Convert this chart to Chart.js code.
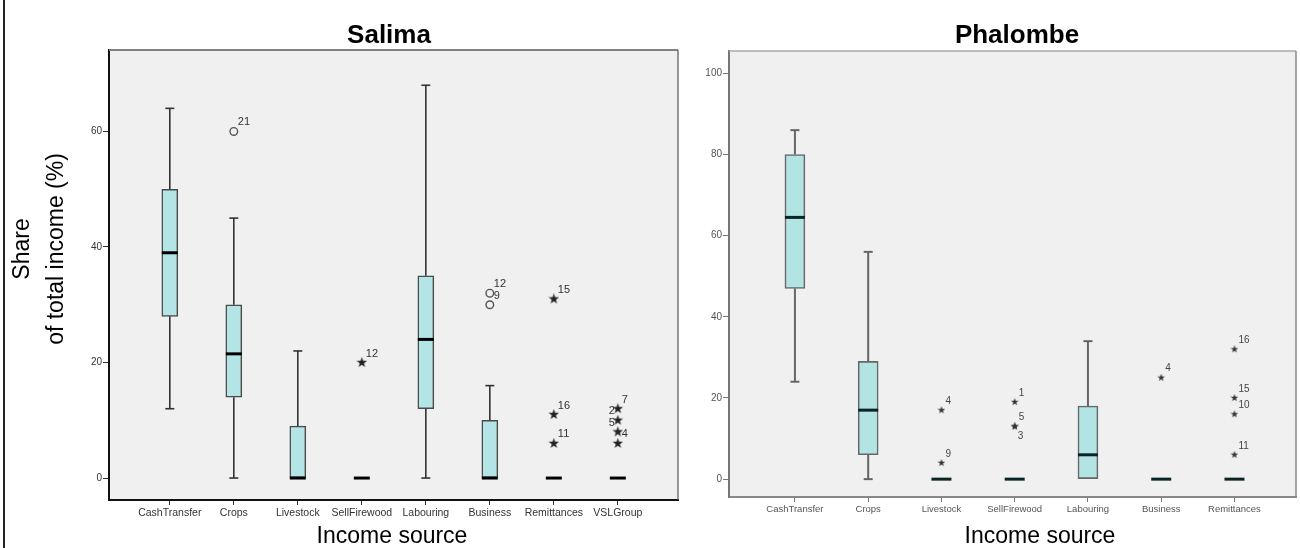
<!DOCTYPE html>
<html><head><meta charset="utf-8">
<script src="https://cdn.jsdelivr.net/npm/chart.js@4.4.1/dist/chart.umd.min.js"></script>
<style>
html,body{margin:0;padding:0;background:#fff;}
body{width:1300px;height:548px;overflow:hidden;position:relative;font-family:"Liberation Sans",Arial,sans-serif;}
canvas{position:absolute;top:0;}
#c1{left:0;}
#c2{left:690px;}
.t{position:absolute;white-space:nowrap;color:#000;text-align:center;}
</style></head><body>
<div style="position:absolute;left:3px;top:0;width:2px;height:548px;background:#222"></div>
<canvas id="c1" width="700" height="548" style="width:700px;height:548px"></canvas>
<canvas id="c2" width="610" height="548" style="width:610px;height:548px"></canvas>
<div class="t" style="left:189px;top:21px;width:400px;font-size:26px;line-height:26px;font-weight:bold;">Salima</div>
<div class="t" style="left:817px;top:21px;width:400px;font-size:26px;line-height:26px;font-weight:bold;">Phalombe</div>
<div class="t" style="left:192px;top:524px;width:400px;font-size:23px;line-height:23px;">Income source</div>
<div class="t" style="left:840px;top:524px;width:400px;font-size:23px;line-height:23px;">Income source</div>
<div class="t" style="left:-112px;top:215px;width:300px;height:68px;font-size:23px;line-height:34px;transform:rotate(-90deg);transform-origin:50% 50%;">Share<br>of total income (%)</div>
<script>
// ---------- Salima data ----------
const salimaCategories = ['CashTransfer','Crops','Livestock','SellFirewood','Labouring','Business','Remittances','VSLGroup'];
const salimaMin    = [12, 0,  0, 0,  0,  0, 0, 0];
const salimaQ1     = [28, 14, 0, 0, 12,  0, 0, 0];
const salimaMedian = [39, 21.5, 0, 0, 24, 0, 0, 0];
const salimaQ3     = [50, 30, 9, 0, 35, 10, 0, 0];
const salimaMax    = [64, 45, 22, 0, 68, 16, 0, 0];
const salimaOutlierCat = [1, 5, 5];
const salimaOutlierVal = [60, 32, 30];
const salimaOutlierLbl = ['21', '12', '9'];
const salimaExtremeCat = [3, 6, 6, 6, 7, 7, 7, 7];
const salimaExtremeVal = [20, 31, 11, 6, 12, 10, 8, 6];
const salimaExtremeLbl = ['12', '15', '16', '11', '7', '2', '5', '4'];
const salimaYTicks = [0, 20, 40, 60];

// ---------- Phalombe data ----------
const phalombeCategories = ['CashTransfer','Crops','Livestock','SellFirewood','Labouring','Business','Remittances'];
const phalombeMin    = [24, 0, 0, 0, 0, 0, 0];
const phalombeQ1     = [47, 6, 0, 0, 0, 0, 0];
const phalombeMedian = [64.5, 17, 0, 0, 6, 0, 0];
const phalombeQ3     = [80, 29, 0, 0, 18, 0, 0];
const phalombeMax    = [86, 56, 0, 0, 34, 0, 0];
const phalombeExtremeCat = [2, 2, 3, 3, 3, 5, 6, 6, 6, 6];
const phalombeExtremeVal = [17, 4, 19, 13, 13, 25, 32, 20, 16, 6];
const phalombeExtremeLbl = ['4', '9', '1', '5', '3', '4', '16', '15', '10', '11'];
const phalombeYTicks = [0, 20, 40, 60, 80, 100];

// label placement (style only)
const salimaOutlierSide  = ['r','r','r'];
const salimaExtremeSide  = ['r','r','r','r','r','l','l','r'];
const phalombeExtremeSide = ['r','r','r','r','br','r','r','r','r','r'];

const FONT = '"Liberation Sans", Arial, sans-serif';

function starImage(size, color){
  const c = document.createElement('canvas');
  c.width = c.height = size;
  const g = c.getContext('2d');
  g.fillStyle = color;
  g.beginPath();
  for (let k = 0; k < 10; k++){
    const r = (k % 2) ? size*0.2 : size*0.5;
    const a = -Math.PI/2 + k*Math.PI/5;
    g.lineTo(size/2 + r*Math.cos(a), size/2 + r*Math.sin(a));
  }
  g.closePath(); g.fill();
  return c;
}

function buildChart(id, o){
  const boxPlugin = {
    id: 'boxes',
    beforeDraw(chart){
      const {ctx, chartArea:a} = chart;
      ctx.save();
      ctx.fillStyle = o.bg;
      ctx.fillRect(a.left, a.top, a.right-a.left, a.bottom-a.top);
      ctx.restore();
    },
    afterDatasetsDraw(chart){
      const {ctx, chartArea:a} = chart;
      const x = chart.scales.x, y = chart.scales.y;
      ctx.save();
      // whiskers
      ctx.strokeStyle = o.whiskerColor; ctx.lineWidth = o.whiskerWidth;
      for (let i = 0; i < o.cats.length; i++){
        const px = x.getPixelForValue(i);
        const seg = (v1, v2) => {
          ctx.beginPath(); ctx.moveTo(px, y.getPixelForValue(v1)); ctx.lineTo(px, y.getPixelForValue(v2)); ctx.stroke();
          ctx.beginPath(); ctx.moveTo(px-o.capW/2, y.getPixelForValue(v2)); ctx.lineTo(px+o.capW/2, y.getPixelForValue(v2)); ctx.stroke();
        };
        if (o.max[i] > o.q3[i]) seg(o.q3[i], o.max[i]);
        if (o.min[i] < o.q1[i]) seg(o.q1[i], o.min[i]);
      }
      // medians
      ctx.strokeStyle = o.medianColor; ctx.lineWidth = o.medianWidth;
      for (let i = 0; i < o.cats.length; i++){
        const px = x.getPixelForValue(i), py = y.getPixelForValue(o.med[i]);
        ctx.beginPath(); ctx.moveTo(px-o.boxW/2, py); ctx.lineTo(px+o.boxW/2, py); ctx.stroke();
      }
      // frame top/right
      ctx.strokeStyle = o.frameTop; ctx.lineWidth = o.frameTopW;
      ctx.beginPath(); ctx.moveTo(a.left, a.top); ctx.lineTo(a.right, a.top); ctx.stroke();
      ctx.strokeStyle = o.frameRight; ctx.lineWidth = o.frameRightW;
      ctx.beginPath(); ctx.moveTo(a.right, a.top); ctx.lineTo(a.right, a.bottom); ctx.stroke();
      // outlier labels
      ctx.fillStyle = o.labelColor;
      ctx.font = o.labelSize + 'px ' + FONT;
      ctx.textBaseline = 'middle';
      o.labelSets.forEach(s => {
        s.cat.forEach((c, i) => {
          const px = x.getPixelForValue(c), py = y.getPixelForValue(s.val[i]);
          const side = s.side[i];
          if (side === 'l'){ ctx.textAlign = 'right'; ctx.fillText(s.lbl[i], px-3, py-9); }
          else if (side === 'br'){ ctx.textAlign = 'left'; ctx.fillText(s.lbl[i], px+3, py+10); }
          else { ctx.textAlign = 'left'; ctx.fillText(s.lbl[i], px+4, py-9); }
        });
      });
      ctx.restore();
    }
  };

  const datasets = [{
    type: 'bar',
    data: o.cats.map((c, i) => ({x: i, y: [o.q1[i], o.q3[i]]})),
    backgroundColor: o.boxFill,
    borderColor: o.boxBorder,
    borderWidth: o.boxBorderW,
    borderSkipped: false,
    barThickness: o.boxW,
    grouped: false
  }];
  o.pointSets.forEach(p => datasets.push({
    type: 'scatter',
    data: p.cat.map((c, i) => ({x: c, y: p.val[i]})),
    pointStyle: p.style,
    pointRadius: p.radius,
    backgroundColor: p.fill,
    borderColor: p.border,
    borderWidth: p.borderW,
    showLine: false
  }));

  return new Chart(document.getElementById(id), {
    type: 'bar',
    data: {datasets},
    plugins: [boxPlugin],
    options: {
      responsive: false,
      animation: false,
      events: [],
      layout: {padding: o.padding},
      plugins: {legend: {display: false}, tooltip: {enabled: false}},
      scales: {
        x: {
          type: 'linear', min: o.xMin, max: o.xMax, offset: false,
          afterBuildTicks: s => { s.ticks = o.cats.map((c, i) => ({value: i})); },
          afterFit: s => { s.height = o.xAxisH; },
          ticks: {autoSkip: false, maxRotation: 0, minRotation: 0, padding: 2,
                  color: o.tickColor, font: {size: o.xTickSize, family: FONT},
                  callback: v => o.cats[v]},
          grid: {display: true, drawOnChartArea: false, drawTicks: true, tickLength: 5, color: o.tickMarkColor, offset: false},
          border: {display: true, color: o.axisColor, width: o.axisW}
        },
        y: {
          type: 'linear', min: o.yMin, max: o.yMax,
          afterBuildTicks: s => { s.ticks = o.yTicks.map(v => ({value: v})); },
          afterFit: s => { s.width = o.yAxisW; },
          ticks: {padding: 1, color: o.tickColor, font: {size: 10, family: FONT}},
          grid: {display: true, drawOnChartArea: false, drawTicks: true, tickLength: 6, color: o.tickMarkColor},
          border: {display: true, color: o.axisColorY, width: o.axisW}
        }
      }
    }
  });
}

buildChart('c1', {
  cats: salimaCategories, min: salimaMin, q1: salimaQ1, med: salimaMedian, q3: salimaQ3, max: salimaMax,
  yTicks: salimaYTicks, yMin: -3.8, yMax: 74.1, xMin: -0.95, xMax: 7.94,
  padding: {top: 50, right: 22, left: 0, bottom: 0}, yAxisW: 109, xAxisH: 48,
  bg: '#f0f0f0', boxFill: '#b4e5e6', boxBorder: '#4a4a4a', boxBorderW: 1.5, boxW: 16, capW: 9,
  whiskerColor: '#333', whiskerWidth: 1.6, medianColor: '#000', medianWidth: 3,
  frameTop: '#808080', frameTopW: 2, frameRight: '#555', frameRightW: 1.2,
  axisColor: '#111', axisColorY: '#111', axisW: 2,
  tickColor: '#333', tickMarkColor: '#333', xTickSize: 10.5,
  labelColor: '#333', labelSize: 11,
  pointSets: [
    {cat: salimaOutlierCat, val: salimaOutlierVal, style: 'circle', radius: 3.8, fill: 'rgba(0,0,0,0)', border: '#555', borderW: 1.4},
    {cat: salimaExtremeCat, val: salimaExtremeVal, style: starImage(11, '#222'), radius: 5, fill: '#222', border: '#222', borderW: 0}
  ],
  labelSets: [
    {cat: salimaOutlierCat, val: salimaOutlierVal, lbl: salimaOutlierLbl, side: salimaOutlierSide},
    {cat: salimaExtremeCat, val: salimaExtremeVal, lbl: salimaExtremeLbl, side: salimaExtremeSide}
  ]
});

buildChart('c2', {
  cats: phalombeCategories, min: phalombeMin, q1: phalombeQ1, med: phalombeMedian, q3: phalombeQ3, max: phalombeMax,
  yTicks: phalombeYTicks, yMin: -4.4, yMax: 105.5, xMin: -0.9, xMax: 6.84,
  padding: {top: 51, right: 3, left: 0, bottom: 0}, yAxisW: 39, xAxisH: 51,
  bg: '#f0f0f0', boxFill: '#b3e4e4', boxBorder: '#666', boxBorderW: 1.6, boxW: 20, capW: 9,
  whiskerColor: '#666', whiskerWidth: 2, medianColor: '#0b2424', medianWidth: 3,
  frameTop: '#aaa', frameTopW: 1.5, frameRight: '#888', frameRightW: 1.5,
  axisColor: '#888', axisColorY: '#777', axisW: 2,
  tickColor: '#555', tickMarkColor: '#777', xTickSize: 9.5,
  labelColor: '#444', labelSize: 10,
  pointSets: [
    {cat: phalombeExtremeCat, val: phalombeExtremeVal, style: starImage(8, '#333'), radius: 4, fill: '#333', border: '#333', borderW: 0}
  ],
  labelSets: [
    {cat: phalombeExtremeCat, val: phalombeExtremeVal, lbl: phalombeExtremeLbl, side: phalombeExtremeSide}
  ]
});
</script>
</body></html>
